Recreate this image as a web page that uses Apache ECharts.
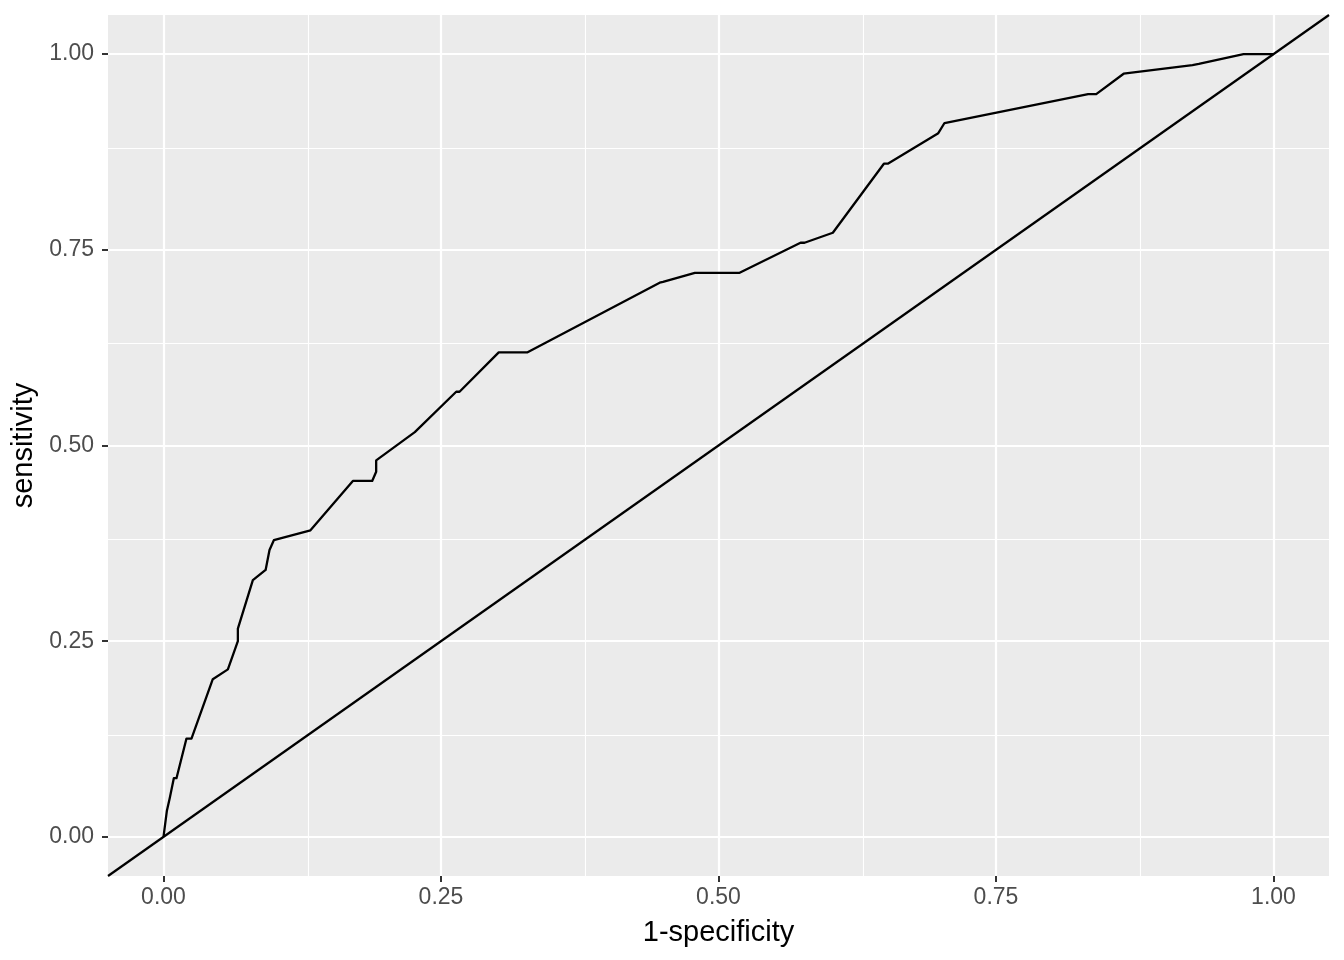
<!DOCTYPE html>
<html>
<head>
<meta charset="utf-8">
<script src="https://cdn.jsdelivr.net/npm/echarts@6/dist/echarts.min.js"></script>
<style>
html,body{margin:0;padding:0;background:#fff;}
#chart{width:1344px;height:960px;}
</style>
</head>
<body>
<div id="chart"></div>
<script>
// ROC curve values
const fpr = [0, 0.003, 0.0057, 0.0093, 0.0117, 0.0207, 0.0252, 0.0444, 0.058, 0.067, 0.067, 0.0805, 0.092, 0.0955, 0.0994, 0.1324, 0.1706, 0.188, 0.1916, 0.1916, 0.2264, 0.2637, 0.2667, 0.302, 0.328, 0.447, 0.450, 0.4787, 0.519, 0.5739, 0.5775, 0.603, 0.649, 0.6525, 0.698, 0.7036, 0.833, 0.8403, 0.865, 0.927, 0.9327, 0.973, 1];
const tpr = [0, 0.033, 0.050, 0.075, 0.075, 0.1256, 0.1256, 0.2014, 0.214, 0.250, 0.266, 0.328, 0.341, 0.3665, 0.379, 0.3917, 0.4547, 0.4547, 0.4665, 0.481, 0.517, 0.5687, 0.5687, 0.619, 0.619, 0.708, 0.709, 0.7206, 0.7206, 0.759, 0.759, 0.7718, 0.86, 0.86, 0.899, 0.912, 0.949, 0.949, 0.975, 0.986, 0.9875, 1, 1];
// reference diagonal (abline y = x across the panel)
const diagX = [-0.05, 1.05];
const diagY = [-0.05, 1.05];
// axis ticks
const majorTicks = [0, 0.25, 0.5, 0.75, 1];
const minorTicks = [0.125, 0.375, 0.625, 0.875];
const axisMin = -0.05, axisMax = 1.05;

const curveData = fpr.map((x, i) => [x, tpr[i]]);
const diagData = diagX.map((x, i) => [x, diagY[i]]);

const gridLines = [];
majorTicks.forEach(v => { gridLines.push({xAxis: v, lineStyle: {width: 2.2}}); gridLines.push({yAxis: v, lineStyle: {width: 2.2}}); });
minorTicks.forEach(v => { gridLines.push({xAxis: v, lineStyle: {width: 1.1}}); gridLines.push({yAxis: v, lineStyle: {width: 1.1}}); });

const fontFam = '"Liberation Sans", Arial, Helvetica, sans-serif';

const chart = echarts.init(document.getElementById('chart'), null, {renderer: 'canvas'});
chart.setOption({
  animation: false,
  backgroundColor: '#ffffff',
  grid: {left: 108, right: 15, top: 15, bottom: 84, show: true, backgroundColor: '#EBEBEB', borderWidth: 0},
  xAxis: {
    type: 'value', min: axisMin, max: axisMax, position: 'bottom',
    name: '1-specificity', nameLocation: 'middle', nameGap: 42,
    nameTextStyle: {fontSize: 29, color: '#000', fontFamily: fontFam},
    axisLine: {show: false, onZero: false},
    axisTick: {show: true, length: 6, lineStyle: {color: '#333333', width: 2}, customValues: majorTicks},
    axisLabel: {fontSize: 23, color: '#4D4D4D', fontFamily: fontFam, margin: 10, customValues: majorTicks,
      formatter: v => v.toFixed(2)},
    splitLine: {show: false}
  },
  yAxis: {
    type: 'value', min: axisMin, max: axisMax, position: 'left',
    name: 'sensitivity', nameLocation: 'middle', nameGap: 64,
    nameTextStyle: {fontSize: 29, color: '#000', fontFamily: fontFam},
    axisLine: {show: false, onZero: false},
    axisTick: {show: true, length: 6, lineStyle: {color: '#333333', width: 2}, customValues: majorTicks},
    axisLabel: {fontSize: 23, color: '#4D4D4D', fontFamily: fontFam, margin: 14, customValues: majorTicks,
      formatter: v => v.toFixed(2)},
    splitLine: {show: false}
  },
  series: [
    {
      type: 'line', data: [], z: 0, zlevel: 0, silent: true,
      markLine: {silent: true, z: 0, symbol: ['none', 'none'], label: {show: false},
        lineStyle: {color: '#ffffff', type: 'solid'}, data: gridLines, animation: false}
    },
    {
      type: 'line', data: diagData, z: 10, symbol: 'none', clip: true, silent: true,
      lineStyle: {color: '#000', width: 2.2}
    },
    {
      type: 'line', data: curveData, z: 11, symbol: 'none', clip: true, silent: true,
      lineStyle: {color: '#000', width: 2.3, join: 'round'}
    }
  ]
});
</script>
</body>
</html>
